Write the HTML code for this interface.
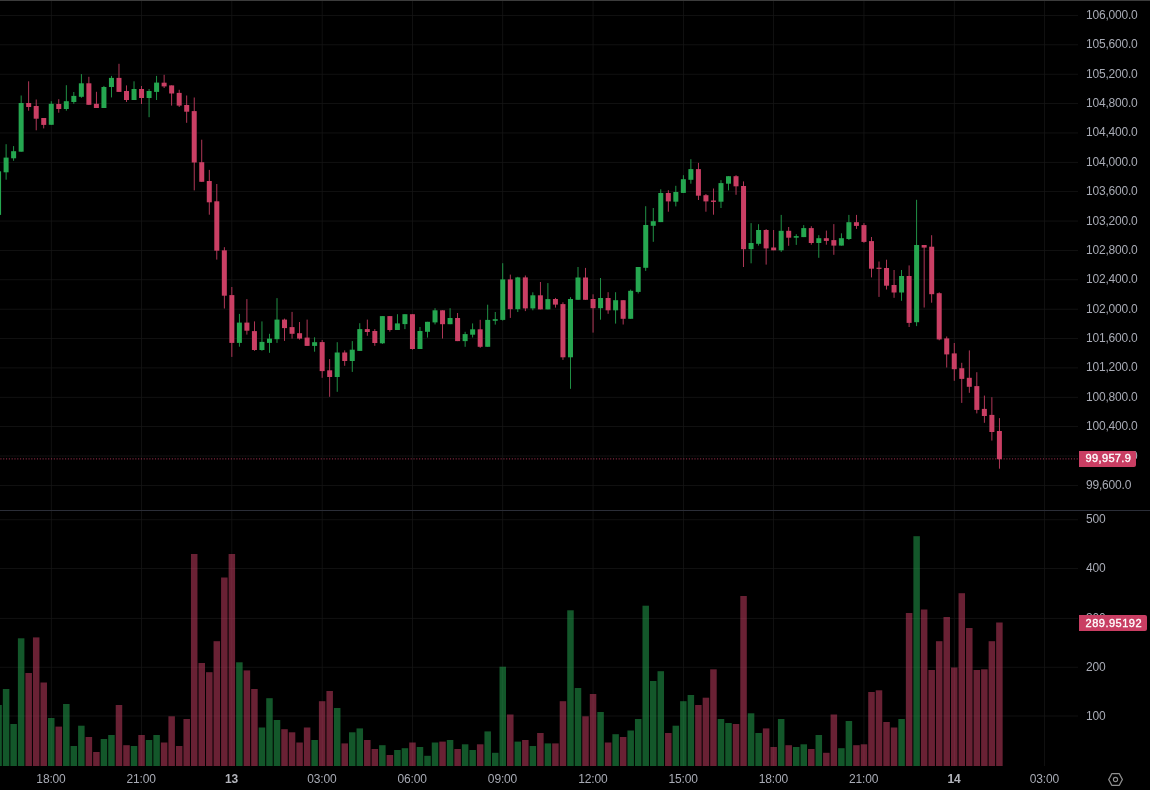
<!DOCTYPE html><html><head><meta charset="utf-8"><title>Chart</title><style>
html,body{margin:0;padding:0;background:#000;}
body{width:1150px;height:790px;overflow:hidden;position:relative;font-family:"Liberation Sans",Arial,sans-serif;font-size:12px;color:#a9acb6;}
svg{position:absolute;left:0;top:0;}
.pl{position:absolute;left:1086px;height:14px;line-height:14px;letter-spacing:-0.2px;white-space:nowrap;}
.tl{position:absolute;top:772px;height:14px;line-height:14px;width:60px;text-align:center;letter-spacing:-0.15px;white-space:nowrap;}
.tl b{color:#b4b6bd;}
.tag{position:absolute;left:1079px;height:16px;line-height:14px;background:#ca3f64;color:#fff;padding-left:6.6px;letter-spacing:0.35px;font-size:11px;-webkit-text-stroke:0.35px #fff;box-sizing:border-box;border-radius:0 2px 2px 0;white-space:nowrap;}

</style></head><body>
<svg width="1150" height="790" viewBox="0 0 1150 790">
<rect x="0" y="0" width="1150" height="1" fill="#3c3c3c"/>
<g fill="#171717"><rect x="0" y="15.10" width="1078" height="0.72"/><rect x="0" y="44.47" width="1078" height="0.72"/><rect x="0" y="73.84" width="1078" height="0.72"/><rect x="0" y="103.21" width="1078" height="0.72"/><rect x="0" y="132.58" width="1078" height="0.72"/><rect x="0" y="161.95" width="1078" height="0.72"/><rect x="0" y="191.32" width="1078" height="0.72"/><rect x="0" y="220.69" width="1078" height="0.72"/><rect x="0" y="250.06" width="1078" height="0.72"/><rect x="0" y="279.43" width="1078" height="0.72"/><rect x="0" y="308.80" width="1078" height="0.72"/><rect x="0" y="338.17" width="1078" height="0.72"/><rect x="0" y="367.54" width="1078" height="0.72"/><rect x="0" y="396.91" width="1078" height="0.72"/><rect x="0" y="426.28" width="1078" height="0.72"/><rect x="0" y="455.65" width="1078" height="0.72"/><rect x="0" y="485.02" width="1078" height="0.72"/><rect x="0" y="519.44" width="1078" height="0.72"/><rect x="0" y="568.14" width="1078" height="0.72"/><rect x="0" y="617.94" width="1078" height="0.72"/><rect x="0" y="666.84" width="1078" height="0.72"/><rect x="0" y="715.64" width="1078" height="0.72"/><rect x="50.89" y="1" width="0.72" height="765"/><rect x="141.19" y="1" width="0.72" height="765"/><rect x="231.49" y="1" width="0.72" height="765"/><rect x="321.79" y="1" width="0.72" height="765"/><rect x="412.09" y="1" width="0.72" height="765"/><rect x="502.39" y="1" width="0.72" height="765"/><rect x="592.69" y="1" width="0.72" height="765"/><rect x="682.99" y="1" width="0.72" height="765"/><rect x="773.29" y="1" width="0.72" height="765"/><rect x="863.59" y="1" width="0.72" height="765"/><rect x="953.89" y="1" width="0.72" height="765"/><rect x="1044.19" y="1" width="0.72" height="765"/></g>
<rect x="0" y="510" width="1150" height="1" fill="#2b2e38" shape-rendering="crispEdges"/>
<g fill="#25a750" fill-opacity="0.52"><rect x="-4.68" y="705.0" width="6.50" height="61.0"/><rect x="2.85" y="689.0" width="6.50" height="77.0"/><rect x="10.38" y="724.0" width="6.50" height="42.0"/><rect x="17.90" y="638.3" width="6.50" height="127.7"/><rect x="48.00" y="718.0" width="6.50" height="48.0"/><rect x="63.05" y="704.0" width="6.50" height="62.0"/><rect x="70.58" y="746.0" width="6.50" height="20.0"/><rect x="78.10" y="725.7" width="6.50" height="40.3"/><rect x="100.68" y="739.0" width="6.50" height="27.0"/><rect x="108.20" y="735.0" width="6.50" height="31.0"/><rect x="130.78" y="746.0" width="6.50" height="20.0"/><rect x="145.82" y="740.0" width="6.50" height="26.0"/><rect x="153.35" y="735.0" width="6.50" height="31.0"/><rect x="236.12" y="662.3" width="6.50" height="103.7"/><rect x="258.70" y="727.5" width="6.50" height="38.5"/><rect x="266.23" y="698.2" width="6.50" height="67.8"/><rect x="273.75" y="720.0" width="6.50" height="46.0"/><rect x="311.38" y="740.0" width="6.50" height="26.0"/><rect x="333.95" y="708.0" width="6.50" height="58.0"/><rect x="349.00" y="732.3" width="6.50" height="33.7"/><rect x="356.53" y="728.4" width="6.50" height="37.6"/><rect x="379.10" y="745.2" width="6.50" height="20.8"/><rect x="394.15" y="750.0" width="6.50" height="16.0"/><rect x="401.68" y="748.2" width="6.50" height="17.8"/><rect x="416.73" y="747.0" width="6.50" height="19.0"/><rect x="424.25" y="755.8" width="6.50" height="10.2"/><rect x="431.78" y="742.5" width="6.50" height="23.5"/><rect x="446.83" y="740.0" width="6.50" height="26.0"/><rect x="461.88" y="744.3" width="6.50" height="21.7"/><rect x="469.40" y="750.0" width="6.50" height="16.0"/><rect x="484.45" y="731.4" width="6.50" height="34.6"/><rect x="491.98" y="752.8" width="6.50" height="13.2"/><rect x="499.50" y="666.7" width="6.50" height="99.3"/><rect x="514.55" y="741.6" width="6.50" height="24.4"/><rect x="529.60" y="746.0" width="6.50" height="20.0"/><rect x="544.65" y="743.4" width="6.50" height="22.6"/><rect x="567.23" y="610.3" width="6.50" height="155.7"/><rect x="574.75" y="688.0" width="6.50" height="78.0"/><rect x="597.33" y="712.0" width="6.50" height="54.0"/><rect x="612.38" y="734.2" width="6.50" height="31.8"/><rect x="627.43" y="730.5" width="6.50" height="35.5"/><rect x="634.95" y="719.0" width="6.50" height="47.0"/><rect x="642.48" y="605.7" width="6.50" height="160.3"/><rect x="650.00" y="681.0" width="6.50" height="85.0"/><rect x="657.52" y="671.2" width="6.50" height="94.8"/><rect x="672.58" y="725.7" width="6.50" height="40.3"/><rect x="680.10" y="701.2" width="6.50" height="64.8"/><rect x="687.62" y="695.0" width="6.50" height="71.0"/><rect x="717.73" y="719.0" width="6.50" height="47.0"/><rect x="725.25" y="723.0" width="6.50" height="43.0"/><rect x="747.83" y="713.3" width="6.50" height="52.7"/><rect x="755.35" y="733.0" width="6.50" height="33.0"/><rect x="777.93" y="719.0" width="6.50" height="47.0"/><rect x="792.98" y="747.0" width="6.50" height="19.0"/><rect x="800.50" y="744.3" width="6.50" height="21.7"/><rect x="815.55" y="735.0" width="6.50" height="31.0"/><rect x="838.12" y="748.2" width="6.50" height="17.8"/><rect x="845.65" y="721.0" width="6.50" height="45.0"/><rect x="898.33" y="719.0" width="6.50" height="47.0"/><rect x="913.38" y="536.2" width="6.50" height="229.8"/></g>
<g fill="#ca3f64" fill-opacity="0.52"><rect x="25.42" y="673.0" width="6.50" height="93.0"/><rect x="32.95" y="637.4" width="6.50" height="128.6"/><rect x="40.48" y="682.5" width="6.50" height="83.5"/><rect x="55.52" y="726.6" width="6.50" height="39.4"/><rect x="85.62" y="737.0" width="6.50" height="29.0"/><rect x="93.15" y="752.0" width="6.50" height="14.0"/><rect x="115.73" y="705.0" width="6.50" height="61.0"/><rect x="123.25" y="745.2" width="6.50" height="20.8"/><rect x="138.30" y="735.0" width="6.50" height="31.0"/><rect x="160.88" y="742.5" width="6.50" height="23.5"/><rect x="168.40" y="716.3" width="6.50" height="49.7"/><rect x="175.93" y="746.0" width="6.50" height="20.0"/><rect x="183.45" y="719.0" width="6.50" height="47.0"/><rect x="190.97" y="554.0" width="6.50" height="212.0"/><rect x="198.50" y="663.0" width="6.50" height="103.0"/><rect x="206.03" y="672.2" width="6.50" height="93.8"/><rect x="213.55" y="641.2" width="6.50" height="124.8"/><rect x="221.08" y="577.5" width="6.50" height="188.5"/><rect x="228.60" y="554.0" width="6.50" height="212.0"/><rect x="243.65" y="670.4" width="6.50" height="95.6"/><rect x="251.18" y="689.0" width="6.50" height="77.0"/><rect x="281.27" y="729.2" width="6.50" height="36.8"/><rect x="288.80" y="732.3" width="6.50" height="33.7"/><rect x="296.33" y="742.5" width="6.50" height="23.5"/><rect x="303.85" y="727.5" width="6.50" height="38.5"/><rect x="318.90" y="701.2" width="6.50" height="64.8"/><rect x="326.43" y="691.0" width="6.50" height="75.0"/><rect x="341.48" y="743.4" width="6.50" height="22.6"/><rect x="364.05" y="740.0" width="6.50" height="26.0"/><rect x="371.57" y="749.0" width="6.50" height="17.0"/><rect x="386.62" y="755.0" width="6.50" height="11.0"/><rect x="409.20" y="742.5" width="6.50" height="23.5"/><rect x="439.30" y="741.6" width="6.50" height="24.4"/><rect x="454.35" y="749.0" width="6.50" height="17.0"/><rect x="476.93" y="744.3" width="6.50" height="21.7"/><rect x="507.03" y="714.5" width="6.50" height="51.5"/><rect x="522.08" y="740.0" width="6.50" height="26.0"/><rect x="537.12" y="733.0" width="6.50" height="33.0"/><rect x="552.17" y="743.4" width="6.50" height="22.6"/><rect x="559.70" y="701.2" width="6.50" height="64.8"/><rect x="582.27" y="716.3" width="6.50" height="49.7"/><rect x="589.80" y="694.0" width="6.50" height="72.0"/><rect x="604.85" y="742.5" width="6.50" height="23.5"/><rect x="619.90" y="737.0" width="6.50" height="29.0"/><rect x="665.05" y="733.0" width="6.50" height="33.0"/><rect x="695.15" y="705.0" width="6.50" height="61.0"/><rect x="702.68" y="697.7" width="6.50" height="68.3"/><rect x="710.20" y="669.3" width="6.50" height="96.7"/><rect x="732.77" y="724.0" width="6.50" height="42.0"/><rect x="740.30" y="596.0" width="6.50" height="170.0"/><rect x="762.88" y="728.4" width="6.50" height="37.6"/><rect x="770.40" y="747.0" width="6.50" height="19.0"/><rect x="785.45" y="745.2" width="6.50" height="20.8"/><rect x="808.03" y="749.0" width="6.50" height="17.0"/><rect x="823.08" y="752.8" width="6.50" height="13.2"/><rect x="830.60" y="714.5" width="6.50" height="51.5"/><rect x="853.18" y="745.2" width="6.50" height="20.8"/><rect x="860.70" y="744.3" width="6.50" height="21.7"/><rect x="868.23" y="692.0" width="6.50" height="74.0"/><rect x="875.75" y="690.3" width="6.50" height="75.7"/><rect x="883.28" y="722.0" width="6.50" height="44.0"/><rect x="890.80" y="727.5" width="6.50" height="38.5"/><rect x="905.85" y="613.0" width="6.50" height="153.0"/><rect x="920.90" y="609.5" width="6.50" height="156.5"/><rect x="928.43" y="670.0" width="6.50" height="96.0"/><rect x="935.95" y="641.2" width="6.50" height="124.8"/><rect x="943.48" y="617.0" width="6.50" height="149.0"/><rect x="951.00" y="667.5" width="6.50" height="98.5"/><rect x="958.53" y="593.2" width="6.50" height="172.8"/><rect x="966.05" y="628.0" width="6.50" height="138.0"/><rect x="973.58" y="670.0" width="6.50" height="96.0"/><rect x="981.10" y="669.3" width="6.50" height="96.7"/><rect x="988.62" y="641.2" width="6.50" height="124.8"/><rect x="996.15" y="622.5" width="6.50" height="143.5"/></g>
<line x1="0.4" y1="458.9" x2="1078" y2="458.9" stroke="#ca3f64" stroke-width="1" stroke-dasharray="1.1 1.71" opacity="0.8"/>
<g fill="#25a750"><rect x="-3.93" y="171.3" width="5.00" height="43.6"/><rect x="5.67" y="144.2" width="0.86" height="35.5"/><rect x="3.60" y="157.6" width="5.00" height="14.7"/><rect x="13.20" y="146.1" width="0.86" height="14.7"/><rect x="11.12" y="151.2" width="5.00" height="7.1"/><rect x="20.72" y="95.5" width="0.86" height="56.2"/><rect x="18.65" y="103.0" width="5.00" height="48.7"/><rect x="50.82" y="101.2" width="0.86" height="23.6"/><rect x="48.75" y="103.8" width="5.00" height="21.0"/><rect x="65.87" y="85.2" width="0.86" height="25.5"/><rect x="63.80" y="101.2" width="5.00" height="7.8"/><rect x="73.39" y="92.0" width="0.86" height="11.8"/><rect x="71.33" y="95.9" width="5.00" height="6.1"/><rect x="80.92" y="74.1" width="0.86" height="23.7"/><rect x="78.85" y="83.3" width="5.00" height="13.5"/><rect x="103.50" y="85.9" width="0.86" height="22.1"/><rect x="101.43" y="87.0" width="5.00" height="21.0"/><rect x="111.02" y="75.9" width="0.86" height="21.5"/><rect x="108.95" y="77.9" width="5.00" height="9.1"/><rect x="133.59" y="81.3" width="0.86" height="18.7"/><rect x="131.53" y="89.0" width="5.00" height="11.0"/><rect x="148.64" y="89.0" width="0.86" height="28.2"/><rect x="146.57" y="91.0" width="5.00" height="7.0"/><rect x="156.17" y="75.9" width="0.86" height="24.1"/><rect x="154.10" y="82.6" width="5.00" height="9.3"/><rect x="238.94" y="313.9" width="0.86" height="32.8"/><rect x="236.88" y="322.6" width="5.00" height="20.3"/><rect x="261.52" y="321.4" width="0.86" height="29.4"/><rect x="259.45" y="341.9" width="5.00" height="8.1"/><rect x="269.05" y="333.8" width="0.86" height="19.0"/><rect x="266.98" y="338.6" width="5.00" height="4.3"/><rect x="276.57" y="298.1" width="0.86" height="44.8"/><rect x="274.50" y="319.6" width="5.00" height="19.6"/><rect x="314.19" y="337.3" width="0.86" height="14.4"/><rect x="312.12" y="342.2" width="5.00" height="3.7"/><rect x="336.77" y="342.2" width="0.86" height="49.6"/><rect x="334.70" y="352.5" width="5.00" height="24.5"/><rect x="351.82" y="341.1" width="0.86" height="30.8"/><rect x="349.75" y="349.7" width="5.00" height="11.3"/><rect x="359.35" y="323.2" width="0.86" height="27.7"/><rect x="357.28" y="329.1" width="5.00" height="21.8"/><rect x="381.92" y="316.1" width="0.86" height="27.8"/><rect x="379.85" y="316.1" width="5.00" height="27.2"/><rect x="396.97" y="314.2" width="0.86" height="15.8"/><rect x="394.90" y="323.4" width="5.00" height="6.6"/><rect x="404.50" y="314.2" width="0.86" height="14.9"/><rect x="402.43" y="314.2" width="5.00" height="9.9"/><rect x="419.55" y="327.0" width="0.86" height="22.0"/><rect x="417.48" y="331.0" width="5.00" height="18.0"/><rect x="427.07" y="321.8" width="0.86" height="15.8"/><rect x="425.00" y="321.8" width="5.00" height="10.0"/><rect x="434.60" y="308.2" width="0.86" height="16.2"/><rect x="432.53" y="310.3" width="5.00" height="12.1"/><rect x="449.65" y="308.2" width="0.86" height="16.0"/><rect x="447.58" y="318.0" width="5.00" height="6.2"/><rect x="464.69" y="331.8" width="0.86" height="15.0"/><rect x="462.62" y="334.1" width="5.00" height="7.0"/><rect x="472.22" y="323.4" width="0.86" height="14.1"/><rect x="470.15" y="329.3" width="5.00" height="5.4"/><rect x="487.27" y="304.7" width="0.86" height="42.1"/><rect x="485.20" y="319.9" width="5.00" height="26.9"/><rect x="494.80" y="312.0" width="0.86" height="12.6"/><rect x="492.73" y="319.2" width="5.00" height="1.6"/><rect x="502.32" y="263.2" width="0.86" height="57.4"/><rect x="500.25" y="279.4" width="5.00" height="40.5"/><rect x="517.37" y="276.8" width="0.86" height="35.2"/><rect x="515.30" y="277.4" width="5.00" height="31.8"/><rect x="532.42" y="292.3" width="0.86" height="18.0"/><rect x="530.35" y="295.3" width="5.00" height="13.1"/><rect x="547.47" y="283.1" width="0.86" height="26.3"/><rect x="545.40" y="299.1" width="5.00" height="10.3"/><rect x="570.05" y="297.2" width="0.86" height="91.6"/><rect x="567.98" y="299.0" width="5.00" height="58.3"/><rect x="577.57" y="267.0" width="0.86" height="32.8"/><rect x="575.50" y="277.5" width="5.00" height="22.3"/><rect x="600.15" y="278.0" width="0.86" height="41.7"/><rect x="598.08" y="298.0" width="5.00" height="10.2"/><rect x="615.20" y="292.2" width="0.86" height="31.4"/><rect x="613.12" y="300.2" width="5.00" height="10.1"/><rect x="630.25" y="289.6" width="0.86" height="29.2"/><rect x="628.18" y="290.8" width="5.00" height="28.0"/><rect x="637.77" y="267.0" width="0.86" height="26.5"/><rect x="635.70" y="267.0" width="5.00" height="24.9"/><rect x="645.30" y="206.2" width="0.86" height="64.7"/><rect x="643.23" y="225.0" width="5.00" height="42.8"/><rect x="652.82" y="208.0" width="0.86" height="33.8"/><rect x="650.75" y="221.2" width="5.00" height="4.6"/><rect x="660.35" y="189.3" width="0.86" height="32.8"/><rect x="658.27" y="193.0" width="5.00" height="29.1"/><rect x="675.40" y="185.8" width="0.86" height="20.6"/><rect x="673.33" y="192.0" width="5.00" height="9.7"/><rect x="682.92" y="175.2" width="0.86" height="17.7"/><rect x="680.85" y="179.2" width="5.00" height="13.7"/><rect x="690.45" y="159.2" width="0.86" height="24.5"/><rect x="688.38" y="169.1" width="5.00" height="10.7"/><rect x="720.55" y="180.1" width="0.86" height="27.9"/><rect x="718.48" y="183.1" width="5.00" height="18.6"/><rect x="728.07" y="176.2" width="0.86" height="14.2"/><rect x="726.00" y="176.2" width="5.00" height="7.5"/><rect x="750.65" y="223.1" width="0.86" height="40.2"/><rect x="748.58" y="243.0" width="5.00" height="6.1"/><rect x="758.17" y="224.2" width="0.86" height="21.4"/><rect x="756.10" y="230.0" width="5.00" height="13.8"/><rect x="780.75" y="214.9" width="0.86" height="37.0"/><rect x="778.68" y="230.8" width="5.00" height="19.5"/><rect x="795.80" y="234.2" width="0.86" height="10.7"/><rect x="793.73" y="236.1" width="5.00" height="1.6"/><rect x="803.32" y="225.1" width="0.86" height="12.0"/><rect x="801.25" y="228.1" width="5.00" height="9.0"/><rect x="818.37" y="235.2" width="0.86" height="22.6"/><rect x="816.30" y="238.2" width="5.00" height="4.8"/><rect x="840.95" y="233.3" width="0.86" height="12.3"/><rect x="838.88" y="238.2" width="5.00" height="7.4"/><rect x="848.47" y="214.9" width="0.86" height="25.0"/><rect x="846.40" y="222.2" width="5.00" height="16.8"/><rect x="901.15" y="270.0" width="0.86" height="30.8"/><rect x="899.08" y="276.0" width="5.00" height="16.5"/><rect x="916.20" y="199.8" width="0.86" height="126.3"/><rect x="914.12" y="245.0" width="5.00" height="77.2"/></g>
<g fill="#ca3f64"><rect x="28.24" y="81.3" width="0.86" height="29.4"/><rect x="26.17" y="103.0" width="5.00" height="4.0"/><rect x="35.77" y="99.5" width="0.86" height="30.8"/><rect x="33.70" y="106.0" width="5.00" height="12.7"/><rect x="43.30" y="118.0" width="0.86" height="10.4"/><rect x="41.23" y="118.0" width="5.00" height="6.9"/><rect x="58.34" y="99.2" width="0.86" height="13.5"/><rect x="56.27" y="104.0" width="5.00" height="5.0"/><rect x="88.44" y="76.8" width="0.86" height="28.0"/><rect x="86.38" y="83.3" width="5.00" height="21.5"/><rect x="95.97" y="91.8" width="0.86" height="16.2"/><rect x="93.90" y="103.8" width="5.00" height="4.2"/><rect x="118.55" y="63.8" width="0.86" height="28.1"/><rect x="116.48" y="77.9" width="5.00" height="14.0"/><rect x="126.07" y="85.4" width="0.86" height="16.6"/><rect x="124.00" y="91.0" width="5.00" height="9.0"/><rect x="141.12" y="86.0" width="0.86" height="18.0"/><rect x="139.05" y="89.0" width="5.00" height="9.0"/><rect x="163.69" y="74.8" width="0.86" height="13.2"/><rect x="161.62" y="82.7" width="5.00" height="3.7"/><rect x="171.22" y="85.4" width="0.86" height="20.2"/><rect x="169.15" y="85.4" width="5.00" height="8.1"/><rect x="178.75" y="89.8" width="0.86" height="17.2"/><rect x="176.68" y="92.9" width="5.00" height="12.7"/><rect x="186.27" y="95.5" width="0.86" height="27.3"/><rect x="184.20" y="105.0" width="5.00" height="6.7"/><rect x="193.79" y="97.5" width="0.86" height="92.9"/><rect x="191.72" y="111.1" width="5.00" height="51.4"/><rect x="201.32" y="139.7" width="0.86" height="42.1"/><rect x="199.25" y="162.2" width="5.00" height="19.6"/><rect x="208.84" y="169.9" width="0.86" height="44.8"/><rect x="206.78" y="181.0" width="5.00" height="21.3"/><rect x="216.37" y="184.0" width="0.86" height="75.6"/><rect x="214.30" y="201.3" width="5.00" height="49.4"/><rect x="223.90" y="247.2" width="0.86" height="61.3"/><rect x="221.83" y="250.3" width="5.00" height="45.4"/><rect x="231.42" y="287.0" width="0.86" height="69.9"/><rect x="229.35" y="295.1" width="5.00" height="47.8"/><rect x="246.47" y="299.1" width="0.86" height="35.5"/><rect x="244.40" y="322.6" width="5.00" height="8.1"/><rect x="254.00" y="321.4" width="0.86" height="29.4"/><rect x="251.93" y="331.1" width="5.00" height="18.9"/><rect x="284.09" y="318.6" width="0.86" height="22.3"/><rect x="282.02" y="319.6" width="5.00" height="8.5"/><rect x="291.62" y="311.9" width="0.86" height="26.7"/><rect x="289.55" y="327.1" width="5.00" height="6.7"/><rect x="299.15" y="322.0" width="0.86" height="17.6"/><rect x="297.08" y="333.2" width="5.00" height="5.4"/><rect x="306.67" y="319.6" width="0.86" height="26.3"/><rect x="304.60" y="337.6" width="5.00" height="8.3"/><rect x="321.72" y="340.0" width="0.86" height="37.8"/><rect x="319.65" y="342.1" width="5.00" height="29.0"/><rect x="329.25" y="359.1" width="0.86" height="37.7"/><rect x="327.18" y="370.3" width="5.00" height="6.7"/><rect x="344.30" y="350.4" width="0.86" height="15.4"/><rect x="342.23" y="352.5" width="5.00" height="8.5"/><rect x="366.87" y="319.6" width="0.86" height="16.2"/><rect x="364.80" y="329.1" width="5.00" height="2.9"/><rect x="374.39" y="329.1" width="0.86" height="16.7"/><rect x="372.32" y="331.0" width="5.00" height="12.0"/><rect x="389.44" y="316.1" width="0.86" height="15.5"/><rect x="387.38" y="316.1" width="5.00" height="13.9"/><rect x="412.02" y="314.2" width="0.86" height="35.4"/><rect x="409.95" y="314.2" width="5.00" height="34.8"/><rect x="442.12" y="310.3" width="0.86" height="28.2"/><rect x="440.05" y="310.3" width="5.00" height="13.9"/><rect x="457.17" y="313.0" width="0.86" height="28.1"/><rect x="455.10" y="318.0" width="5.00" height="23.1"/><rect x="479.75" y="319.8" width="0.86" height="28.0"/><rect x="477.68" y="329.3" width="5.00" height="17.5"/><rect x="509.85" y="274.6" width="0.86" height="43.3"/><rect x="507.78" y="279.4" width="5.00" height="29.8"/><rect x="524.90" y="275.5" width="0.86" height="35.6"/><rect x="522.83" y="277.4" width="5.00" height="31.0"/><rect x="539.95" y="282.0" width="0.86" height="27.4"/><rect x="537.88" y="295.3" width="5.00" height="14.1"/><rect x="555.00" y="297.9" width="0.86" height="9.7"/><rect x="552.92" y="299.0" width="5.00" height="5.6"/><rect x="562.52" y="302.3" width="0.86" height="57.6"/><rect x="560.45" y="304.1" width="5.00" height="53.2"/><rect x="585.10" y="267.9" width="0.86" height="31.9"/><rect x="583.02" y="277.5" width="5.00" height="22.3"/><rect x="592.62" y="294.3" width="0.86" height="38.3"/><rect x="590.55" y="299.0" width="5.00" height="9.2"/><rect x="607.67" y="292.2" width="0.86" height="21.6"/><rect x="605.60" y="298.0" width="5.00" height="12.3"/><rect x="622.72" y="300.2" width="0.86" height="24.3"/><rect x="620.65" y="300.2" width="5.00" height="18.6"/><rect x="667.87" y="190.2" width="0.86" height="21.5"/><rect x="665.80" y="193.0" width="5.00" height="8.4"/><rect x="697.97" y="162.9" width="0.86" height="37.1"/><rect x="695.90" y="169.1" width="5.00" height="26.6"/><rect x="705.50" y="194.0" width="0.86" height="17.7"/><rect x="703.43" y="195.2" width="5.00" height="6.2"/><rect x="713.02" y="188.5" width="0.86" height="26.2"/><rect x="710.95" y="200.5" width="5.00" height="1.4"/><rect x="735.60" y="175.2" width="0.86" height="19.6"/><rect x="733.52" y="176.2" width="5.00" height="10.1"/><rect x="743.12" y="181.4" width="0.86" height="85.6"/><rect x="741.05" y="186.0" width="5.00" height="63.2"/><rect x="765.70" y="229.1" width="0.86" height="35.5"/><rect x="763.62" y="230.0" width="5.00" height="18.4"/><rect x="773.22" y="230.0" width="0.86" height="20.3"/><rect x="771.15" y="247.5" width="5.00" height="2.8"/><rect x="788.27" y="227.0" width="0.86" height="18.8"/><rect x="786.20" y="230.8" width="5.00" height="6.9"/><rect x="810.85" y="226.2" width="0.86" height="18.5"/><rect x="808.78" y="228.1" width="5.00" height="14.9"/><rect x="825.90" y="230.6" width="0.86" height="14.1"/><rect x="823.83" y="238.2" width="5.00" height="2.7"/><rect x="833.42" y="224.1" width="0.86" height="30.7"/><rect x="831.35" y="240.1" width="5.00" height="5.5"/><rect x="856.00" y="214.9" width="0.86" height="14.0"/><rect x="853.93" y="222.2" width="5.00" height="3.7"/><rect x="863.52" y="223.1" width="0.86" height="19.7"/><rect x="861.45" y="225.1" width="5.00" height="16.8"/><rect x="871.05" y="237.0" width="0.86" height="40.4"/><rect x="868.98" y="241.1" width="5.00" height="27.6"/><rect x="878.57" y="261.5" width="0.86" height="35.4"/><rect x="876.50" y="267.7" width="5.00" height="1.2"/><rect x="886.10" y="259.7" width="0.86" height="29.8"/><rect x="884.03" y="268.0" width="5.00" height="17.7"/><rect x="893.62" y="270.0" width="0.86" height="27.8"/><rect x="891.55" y="285.0" width="5.00" height="7.5"/><rect x="908.67" y="265.4" width="0.86" height="61.6"/><rect x="906.60" y="276.0" width="5.00" height="46.9"/><rect x="923.72" y="245.0" width="0.86" height="62.5"/><rect x="921.65" y="245.0" width="5.00" height="2.6"/><rect x="931.25" y="235.2" width="0.86" height="67.5"/><rect x="929.18" y="246.7" width="5.00" height="47.5"/><rect x="938.77" y="292.3" width="0.86" height="48.0"/><rect x="936.70" y="293.2" width="5.00" height="46.2"/><rect x="946.30" y="336.5" width="0.86" height="31.0"/><rect x="944.23" y="338.4" width="5.00" height="16.0"/><rect x="953.82" y="343.0" width="0.86" height="37.8"/><rect x="951.75" y="353.4" width="5.00" height="15.8"/><rect x="961.35" y="362.8" width="0.86" height="40.1"/><rect x="959.28" y="368.2" width="5.00" height="10.7"/><rect x="968.87" y="350.4" width="0.86" height="42.4"/><rect x="966.80" y="377.8" width="5.00" height="9.0"/><rect x="976.40" y="372.2" width="0.86" height="41.2"/><rect x="974.33" y="386.1" width="5.00" height="23.8"/><rect x="983.92" y="395.6" width="0.86" height="27.2"/><rect x="981.85" y="408.9" width="5.00" height="7.1"/><rect x="991.45" y="397.2" width="0.86" height="43.4"/><rect x="989.38" y="414.9" width="5.00" height="17.1"/><rect x="998.97" y="418.1" width="0.86" height="50.6"/><rect x="996.90" y="431.0" width="5.00" height="28.2"/></g>
<g fill="none" stroke="#8e8e8e" stroke-width="1.3" stroke-linejoin="round"><path d="M1108.7 779.5 L1111.8 773.7 L1119.3 773.7 L1122.4 779.5 L1119.3 785.3 L1111.8 785.3 Z"/><circle cx="1115.5" cy="779.5" r="2.1" stroke-width="1.1"/></g>
</svg>
<div id="labels" style="position:absolute;left:0;top:0;width:1150px;height:790px;will-change:transform;opacity:0.999">
<div class="pl" style="top:8px">106,000.0</div>
<div class="pl" style="top:37px">105,600.0</div>
<div class="pl" style="top:67px">105,200.0</div>
<div class="pl" style="top:96px">104,800.0</div>
<div class="pl" style="top:125px">104,400.0</div>
<div class="pl" style="top:155px">104,000.0</div>
<div class="pl" style="top:184px">103,600.0</div>
<div class="pl" style="top:214px">103,200.0</div>
<div class="pl" style="top:243px">102,800.0</div>
<div class="pl" style="top:272px">102,400.0</div>
<div class="pl" style="top:302px">102,000.0</div>
<div class="pl" style="top:331px">101,600.0</div>
<div class="pl" style="top:360px">101,200.0</div>
<div class="pl" style="top:390px">100,800.0</div>
<div class="pl" style="top:419px">100,400.0</div>
<div class="pl" style="top:449px">100,000.0</div>
<div class="pl" style="top:478px">99,600.0</div>
<div class="pl" style="top:512px">500</div>
<div class="pl" style="top:561px">400</div>
<div class="pl" style="top:611px">300</div>
<div class="pl" style="top:660px">200</div>
<div class="pl" style="top:709px">100</div>
<div class="tl" style="left:21.0px">18:00</div>
<div class="tl" style="left:111.2px">21:00</div>
<div class="tl" style="left:201.6px"><b>13</b></div>
<div class="tl" style="left:291.9px">03:00</div>
<div class="tl" style="left:382.2px">06:00</div>
<div class="tl" style="left:472.5px">09:00</div>
<div class="tl" style="left:562.8px">12:00</div>
<div class="tl" style="left:653.1px">15:00</div>
<div class="tl" style="left:743.4px">18:00</div>
<div class="tl" style="left:833.7px">21:00</div>
<div class="tl" style="left:924.0px"><b>14</b></div>
<div class="tl" style="left:1014.3px">03:00</div>
<div class="tag" style="top:451px;width:57px">99,957.9</div>
<div class="tag" style="top:615px;width:68px;line-height:16px;letter-spacing:0.5px">289.95192</div>
</div>
</body></html>
